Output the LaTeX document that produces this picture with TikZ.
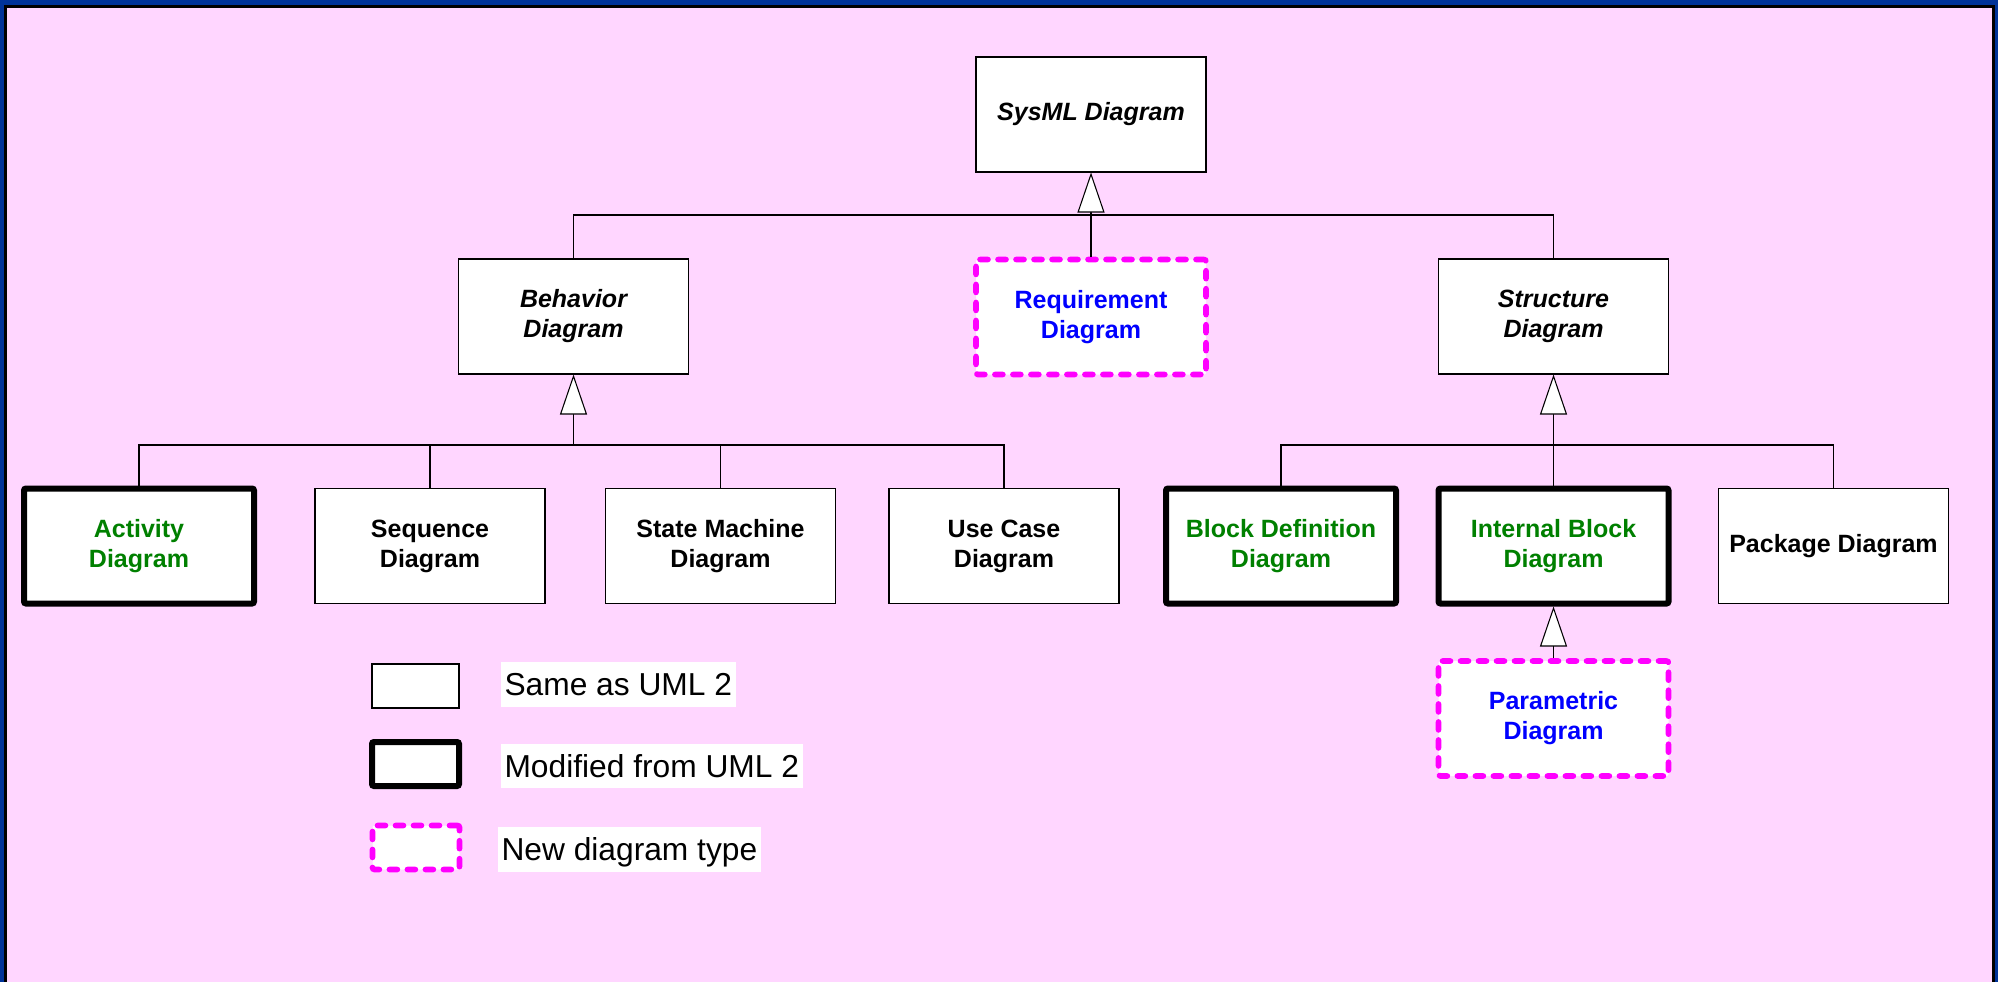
\documentclass[tikz,border=0pt]{standalone}
\usepackage{fontspec}
\setmainfont{Liberation Sans}
\usetikzlibrary{arrows.meta}
\definecolor{bgpink}{RGB}{255,214,255}
\definecolor{frameblue}{RGB}{0,51,153}
\definecolor{uml}{RGB}{0,128,0}
\definecolor{newtype}{RGB}{255,0,255}
\definecolor{newtext}{RGB}{0,0,255}
\begin{document}
\begin{tikzpicture}[x=0.75pt,y=-0.75pt,
every node/.style={%
line width=0.8pt,
draw,
fill=white,
anchor=center,
align=center,
inner sep=0pt,
minimum width=172.5pt,
minimum height=86.25pt,
font=\fontsize{18.75}{22.5}\selectfont\bfseries,
},
abs/.style={font=\fontsize{18.75}{22.5}\selectfont\bfseries\itshape},
mod/.style={line width=4.5pt,rounded corners=1.5pt,text=uml},
new/.style={draw=newtype,line width=4.2pt,line cap=round,dash pattern=on 6pt off 7.5pt,rounded corners=1.5pt,text=newtext},
key/.style={minimum width=65.25pt,minimum height=33pt},
input/.style={draw=none,anchor=west,minimum width=0pt,minimum height=0pt,inner xsep=3pt,inner ysep=3.3pt,text height=22pt,text depth=5pt,font=\fontsize{23.8}{28}\selectfont},
line/.style={line width=0.8pt},
gen/.style={-{Triangle[length=30pt,width=20.25pt,fill=white]},line width=0.8pt}
]
\fill[frameblue](0,0)rectangle(1998,982);
\fill[black](4,5)rectangle(1995,982);
\fill[bgpink](7,8)rectangle(1992,982);
\useasboundingbox(0,0)rectangle(1998,982);
\node[abs]at(1091,114.5)(sys){SysML Diagram};
\node[abs]at(573.5,316.5)(beh){Behavior\\Diagram};
\node[new]at(1091,317)(req){Requirement\\Diagram};
\node[abs]at(1553.5,316.5)(str){Structure\\Diagram};
\node[mod]at(139,546)(act){Activity\\Diagram};
\node at(430,546)(seq){Sequence\\Diagram};
\node at(720.5,546)(stm){State Machine\\Diagram};
\node at(1004,546)(uc){Use Case\\Diagram};
\node[mod]at(1281,546)(bdd){Block Definition\\Diagram};
\node[mod]at(1553.5,546)(ibd){Internal Block\\Diagram};
\node at(1833.5,546)(pkg){Package Diagram};
\node[new]at(1553.5,718.5)(par){Parametric\\Diagram};
\coordinate(j1)at(1091,215);
\coordinate(j2)at(573.5,445);
\coordinate(j3)at(1553.5,445);
\draw[line](beh.north)|-(j1)-|(str.north);
\draw[line](req)--(j1);
\draw[gen](j1)--(sys);
\draw[line](act.north)|-(j2)-|(uc.north);
\draw[line](seq)--(seq|-j2);
\draw[line](stm)--(stm|-j2);
\draw[gen](j2)--(beh);
\draw[line](bdd.north)|-(j3)-|(pkg.north);
\draw[line](ibd)--(j3);
\draw[gen](j3)--(str);
\draw[gen](par)--(ibd);
\node[key]at(415.5,686)(k1){};
\node[key,mod]at(415.5,764)(k2){};
\node[key,new]at(416,847.5)(k3){};
\node[input]at(500,684.5)(t1){Same as UML 2};
\node[input]at(500,766)(t2){Modified from UML 2};
\node[input]at(497,849.5)(t3){New diagram type};
\end{tikzpicture}
\end{document}
